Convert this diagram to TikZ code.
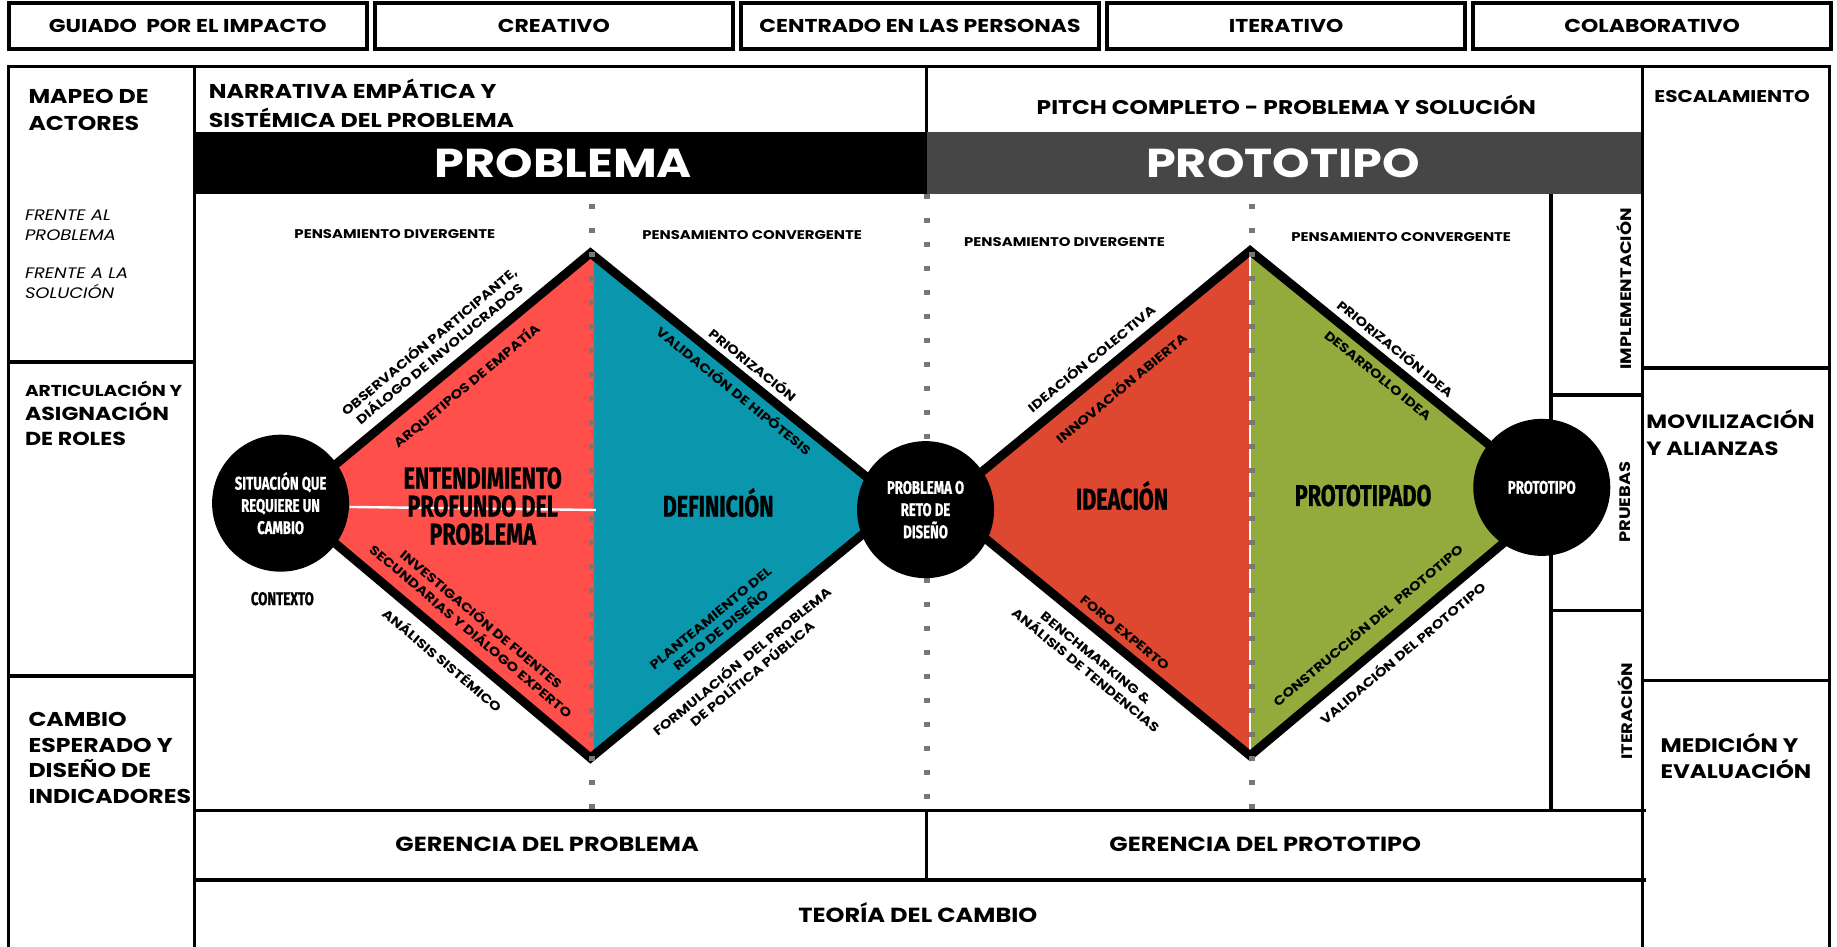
\documentclass[tikz,border=0pt]{standalone}
\usepackage{fontspec}
\setmainfont{Poppins}[FakeStretch=1.18]
\newfontfamily\bebas{Fira Sans}[FakeStretch=0.72, FakeBold=0.8, Ligatures=NoCommon]
\usetikzlibrary{shapes.geometric}

\definecolor{probred}{HTML}{FF4F4A}
\definecolor{defteal}{HTML}{0A97AD}
\definecolor{ideared}{HTML}{DE4830}
\definecolor{protogreen}{HTML}{93AB3D}
\definecolor{bandgray}{HTML}{464646}
\definecolor{dotgray}{HTML}{777777}

\tikzset{
  grid line/.style={line width=1.7pt},
  value box/.style={draw, line width=1.8pt, minimum width=179pt, minimum height=23.2pt, inner sep=0pt,
    font=\bfseries\fontsize{9.3}{10}\selectfont},
  side label/.style={anchor=west, align=left, inner sep=0pt},
  phase label/.style={inner sep=0pt, align=center, font=\bfseries\fontsize{6.3}{8}\selectfont},
  step label/.style={inner sep=0pt, align=center, font=\bebas\bfseries\fontsize{15}{14}\selectfont},
  hub/.style={circle, fill=black, minimum size=68.5pt, inner sep=0pt, text=white, align=center,
    font=\bebas\bfseries\fontsize{9.15}{11.1}\selectfont},
  diamond edge/.style={line width=4.4pt, line join=miter},
  dot line/.style={dotgray, line width=2.9pt, dash pattern=on 2.5pt off 9.5pt},
  row label/.style={inner sep=0pt, font=\bfseries\fontsize{10.2}{12}\selectfont},
  band label/.style={inner sep=0pt, text=white, font=\bfseries\fontsize{20.2}{22}\selectfont},
  vert label/.style={inner sep=0pt, rotate=90, font=\bfseries\fontsize{7.6}{9}\selectfont},
}

\begin{document}
\begin{tikzpicture}[x=0.5858pt, y=-0.5858pt]
  \useasboundingbox (0,0) rectangle (1568,808);

  % Values row
  \node[value box] (impacto) at (160.25,22.2) {GUIADO\ \ POR EL IMPACTO};
  \node[value box] (creativo) at (472.75,22.2) {CREATIVO};
  \node[value box] (personas) at (785.25,22.2) {CENTRADO EN LAS PERSONAS};
  \node[value box] (iterativo) at (1097.75,22.2) {ITERATIVO};
  \node[value box] (colab) at (1410.25,22.2) {COLABORATIVO};

  % Diamond corners
  \coordinate (L1) at (246,430);
  \coordinate (T1) at (504,216);
  \coordinate (R1) at (768,430);
  \coordinate (B1) at (504,647);
  \coordinate (M1T) at (507,216);
  \coordinate (M1B) at (507,647);
  \coordinate (L2) at (805,430);
  \coordinate (T2) at (1067,214);
  \coordinate (R2) at (1328,426);
  \coordinate (B2) at (1067,645);

  % Diamond fills
  \fill[probred] (L1) -- (M1T) -- (M1B) -- cycle;
  \fill[defteal] (M1T) -- (R1) -- (M1B) -- cycle;
  \fill[ideared] (L2) -- (T2) -- (B2) -- cycle;
  \fill[protogreen] (T2) -- (R2) -- (B2) -- cycle;
  \draw[white, line width=1.2pt] (298.5,432.7) -- (508.7,435.3);
  \draw[white, line width=0.8pt] (T2) -- (B2);

  % Diamond borders
  \draw[diamond edge] (L1) -- (T1) -- (R1) -- (B1) -- cycle;
  \draw[diamond edge] (L2) -- (T2) -- (R2) -- (B2) -- cycle;

  % Dotted phase dividers
  \draw[dot line] (505,174) -- (505,692);
  \draw[dot line] (791,166) -- (791,692);
  \draw[dot line] (1068.5,174) -- (1068.5,692);

  % Bands
  \fill[black] (166,113) rectangle (791,166);
  \fill[bandgray] (791,113) rectangle (1402,166);
  \node[band label] (problema) at (481,139) {PROBLEMA};
  \node[band label] (prototipoband) at (1095,139) {PROTOTIPO};

  % Canvas grid
  \draw[grid line] (7.5,808) -- (7.5,57) -- (1561.6,57) -- (1561.6,808);
  \draw[grid line] (166,57) -- (166,808);
  \draw[grid line] (1402,57) -- (1402,808);
  \draw[grid line] (791,57) -- (791,113);
  \draw[grid line] (7.5,309) -- (166,309);
  \draw[grid line] (7.5,577) -- (166,577);
  \draw[grid line] (1402,314) -- (1561.6,314);
  \draw[grid line] (1402,581) -- (1561.6,581);
  \draw[grid line] (1324,166) -- (1324,692);
  \draw[grid line] (1324,337) -- (1402,337);
  \draw[grid line] (1324,521) -- (1402,521);
  \draw[grid line] (166,692) -- (1405,692);
  \draw[grid line] (166,751) -- (1405,751);
  \draw[grid line] (791,692) -- (791,751);

  % Hubs
  \node[hub] (situacion) at (239.5,429.5) {SITUACIÓN QUE\\REQUIERE UN\\CAMBIO};
  \node[hub] (reto) at (790,435) {PROBLEMA O\\RETO DE\\DISEÑO};
  \node[hub] (prototipo) at (1316,416) {PROTOTIPO};
  \node[inner sep=0pt, font=\bebas\bfseries\fontsize{9.2}{11}\selectfont] (contexto) at (241,511) {CONTEXTO};

  % Phase names
  \node[step label] (entend) at (412,432) {ENTENDIMIENTO\\PROFUNDO DEL\\PROBLEMA};
  \node[step label] (defin) at (613,429) {DEFINICIÓN};
  \node[step label] (ideacion) at (957.7,423) {IDEACIÓN};
  \node[step label] (prototipado) at (1163.5,423) {PROTOTIPADO};

  % Thinking modes
  \node[phase label] (diverg1) at (337,200) {PENSAMIENTO DIVERGENTE};
  \node[phase label] (converg1) at (642,201) {PENSAMIENTO CONVERGENTE};
  \node[phase label] (diverg2) at (908.6,207) {PENSAMIENTO DIVERGENTE};
  \node[phase label] (converg2) at (1196,202) {PENSAMIENTO CONVERGENTE};

  % Edge labels, first diamond
  \node[phase label, rotate=39.7] (obs) at (370,296) {OBSERVACIÓN PARTICIPANTE,\\DIÁLOGO DE INVOLUCRADOS};
  \node[phase label, rotate=39.7] (arq) at (398,329) {ARQUETIPOS DE EMPATÍA};
  \node[phase label, rotate=-40.1] (invest) at (407,533) {INVESTIGACIÓN DE FUENTES\\SECUNDARIAS Y DIÁLOGO EXPERTO};
  \node[phase label, rotate=-40.1] (analisis) at (378,563) {ANÁLISIS SISTÉMICO};
  \node[phase label, rotate=-39] (prioriz) at (643,311) {PRIORIZACIÓN};
  \node[phase label, rotate=-39] (validhip) at (627,333) {VALIDACIÓN DE HIPÓTESIS};
  \node[phase label, rotate=39.4] (plant) at (611,533) {PLANTEAMIENTO DEL\\RETO DE DISEÑO};
  \node[phase label, rotate=39.4] (formul) at (637,569) {FORMULACIÓN\ \ DEL PROBLEMA\\DE POLÍTICA PÚBLICA};

  % Edge labels, second diamond
  \node[phase label, rotate=39.5] (ideacol) at (931,305.5) {IDEACIÓN COLECTIVA};
  \node[phase label, rotate=39.5] (innov) at (956.5,330.7) {INNOVACIÓN ABIERTA};
  \node[phase label, rotate=-39.1] (prioidea) at (1191.6,297) {PRIORIZACIÓN IDEA};
  \node[phase label, rotate=-39.1] (desarr) at (1176,320.6) {DESARROLLO IDEA};
  \node[phase label, rotate=-39.4] (foro) at (960,540) {FORO EXPERTO};
  \node[phase label, rotate=-39.4] (bench) at (931,567) {BENCHMARKING \&\\ANÁLISIS DE TENDENCIAS};
  \node[phase label, rotate=40] (constr) at (1167,533) {CONSTRUCCIÓN DEL\ \ PROTOTIPO};
  \node[phase label, rotate=40] (validproto) at (1196.7,557) {VALIDACIÓN DEL PROTOTIPO};

  % Header row
  \node[side label, font=\bfseries\fontsize{10}{14.6}\selectfont] (narrativa) at (178,88.5) {NARRATIVA EMPÁTICA Y\\SISTÉMICA DEL PROBLEMA};
  \node[inner sep=0pt, font=\bfseries\fontsize{9.9}{12}\selectfont] (pitch) at (1098,89.6) {PITCH COMPLETO - PROBLEMA Y SOLUCIÓN};

  % Left column
  \node[side label, font=\bfseries\fontsize{10}{13.4}\selectfont] (mapeo) at (24,94) {MAPEO DE\\ACTORES};
  \node[side label, font=\itshape\fontsize{7.6}{10}\selectfont] (frenteprob) at (21,192) {FRENTE AL\\PROBLEMA};
  \node[side label, font=\itshape\fontsize{7.6}{10}\selectfont] (frentesol) at (21,241.4) {FRENTE A LA\\SOLUCIÓN};
  \node[side label, font=\bfseries\fontsize{7.9}{9}\selectfont] (artic) at (21,332) {ARTICULACIÓN Y};
  \node[side label, font=\bfseries\fontsize{9.4}{12.5}\selectfont] (asign) at (21,362) {ASIGNACIÓN\\DE ROLES};
  \node[side label, font=\bfseries\fontsize{10}{12.9}\selectfont] (cambio) at (24,647) {CAMBIO\\ESPERADO Y\\DISEÑO DE\\INDICADORES};

  % Right columns
  \node[inner sep=0pt, font=\bfseries\fontsize{8.5}{11}\selectfont] (escala) at (1478.5,82) {ESCALAMIENTO};
  \node[side label, font=\bfseries\fontsize{9.6}{13.5}\selectfont] (moviliz) at (1405,369.5) {MOVILIZACIÓN\\Y ALIANZAS};
  \node[side label, font=\bfseries\fontsize{9.8}{13}\selectfont] (medicion) at (1417,645.5) {MEDICIÓN Y\\EVALUACIÓN};
  \node[vert label] (implem) at (1386,246.5) {IMPLEMENTACIÓN};
  \node[vert label] (pruebas) at (1387.5,428.6) {PRUEBAS};
  \node[vert label] (iteracion) at (1387,607) {ITERACIÓN};

  % Bottom rows
  \node[row label] (gerprob) at (467,721) {GERENCIA DEL PROBLEMA};
  \node[row label] (gerproto) at (1080,721) {GERENCIA DEL PROTOTIPO};
  \node[row label] (teoria) at (783.5,779) {TEORÍA DEL CAMBIO};
\end{tikzpicture}
\end{document}
